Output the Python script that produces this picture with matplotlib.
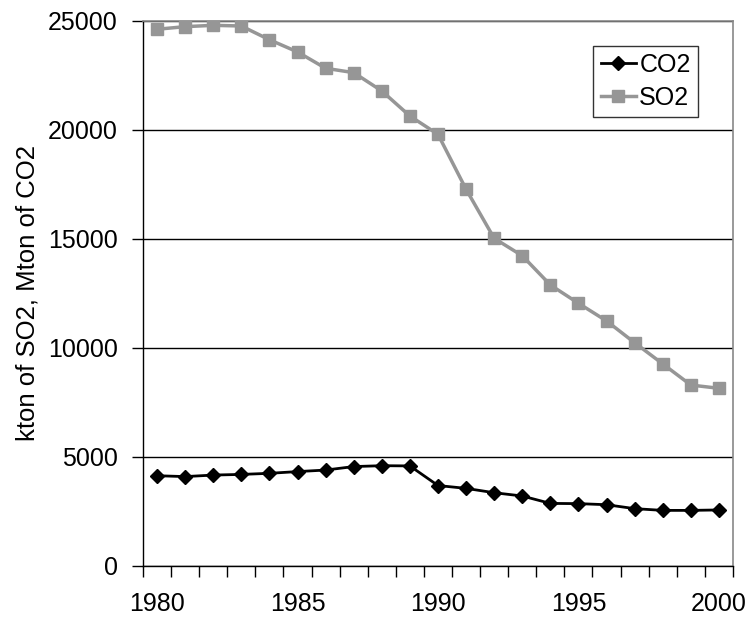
import numpy as np
import matplotlib.pyplot as plt
from matplotlib.ticker import MultipleLocator, FixedLocator

plt.rcParams['font.family'] = ['Liberation Sans', 'DejaVu Sans']

years = np.arange(1980, 2001)
co2 = [4140, 4100, 4170, 4200, 4250, 4330, 4400, 4560, 4600, 4590,
       3690, 3560, 3360, 3210, 2870, 2860, 2810, 2630, 2550, 2550, 2570]
so2 = [24620, 24740, 24800, 24770, 24140, 23580, 22830, 22630, 21790, 20640,
       19800, 17280, 15030, 14230, 12890, 12050, 11240, 10240, 9270, 8300, 8150]

fig = plt.figure(figsize=(7.49, 6.17), dpi=100)
ax = fig.add_axes([0.1909, 0.0827, 0.7877, 0.8833])

ax.plot(years, co2, color='black', lw=2, marker='D', ms=7, label='CO2', zorder=4)
ax.plot(years, so2, color='#969696', lw=2.5, marker='s', ms=8, label='SO2', zorder=3)

ax.set_xlim(1979.5, 2000.5)
ax.set_ylim(0, 25000)
ax.yaxis.set_major_locator(MultipleLocator(5000))
ax.grid(axis='y', color='black', lw=1)
ax.set_axisbelow(True)

# category-style axis: ticks between years, labels every 5 years
ax.xaxis.set_major_locator(FixedLocator([1980, 1985, 1990, 1995, 2000]))
ax.xaxis.set_minor_locator(FixedLocator(np.arange(1979.5, 2001, 1)))
ax.tick_params(axis='x', which='major', length=0, pad=19, labelsize=18)
ax.tick_params(axis='x', which='minor', length=8, width=1, direction='out')
ax.tick_params(axis='y', length=8, width=1, direction='out', labelsize=18, pad=10)

for side in ['top', 'right']:
    ax.spines[side].set_color('#888888')
    ax.spines[side].set_linewidth(1.2)
for side in ['left', 'bottom']:
    ax.spines[side].set_color('black')
    ax.spines[side].set_linewidth(1)

ax.set_ylabel('kton of SO2, Mton of CO2', fontsize=18.5, labelpad=6)

leg = ax.legend(loc='upper right', bbox_to_anchor=(0.941, 0.955), borderaxespad=0,
                fancybox=False, edgecolor='black', fontsize=18, handlelength=1.4,
                handletextpad=0.15, borderpad=0.3, labelspacing=0.35)
leg.get_frame().set_linewidth(1)

fig.savefig('out.png', dpi=100)
